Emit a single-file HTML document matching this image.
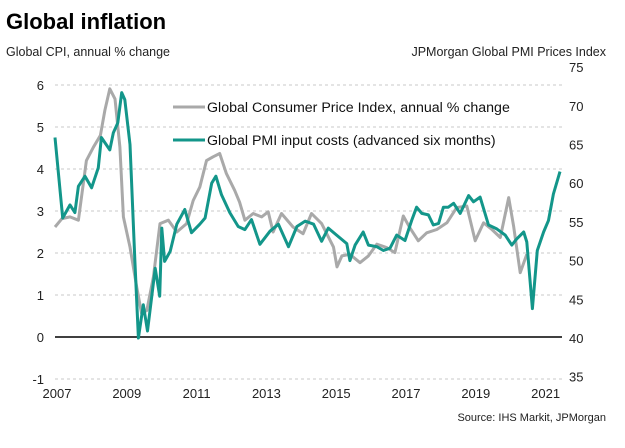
<!DOCTYPE html>
<html><head><meta charset="utf-8"><style>
body{margin:0;background:#fff;font-family:"Liberation Sans",Arial,sans-serif}
svg text{font-family:"Liberation Sans",Arial,sans-serif}
</style></head><body>
<svg id="chart" width="625" height="443" viewBox="0 0 625 443" xmlns="http://www.w3.org/2000/svg">
<text x="6" y="29" font-size="22" font-weight="bold" fill="#000">Global inflation</text>
<text x="6" y="56" font-size="12.5" fill="#222">Global  CPI, annual % change</text>
<text x="606" y="56" font-size="12.5" fill="#222" text-anchor="end">JPMorgan Global PMI Prices Index</text>
<g id="grid"></g>
<g id="lticks"></g>
<g id="rticks"></g>
<g id="xticks"></g>
<path id="cpi" fill="none" stroke="#a9a9a9" stroke-width="3" stroke-linejoin="round"/>
<path id="pmi" fill="none" stroke="#13968a" stroke-width="3" stroke-linejoin="round"/>
<g>
<line x1="173" y1="107" x2="205" y2="107" stroke="#a9a9a9" stroke-width="3"/>
<text x="207" y="112" font-size="14.2" fill="#111">Global Consumer Price Index, annual % change</text>
<line x1="173" y1="140" x2="205" y2="140" stroke="#13968a" stroke-width="3"/>
<text x="207" y="145" font-size="14.2" fill="#111">Global PMI input costs (advanced six months)</text>
</g>
<text x="606" y="421" font-size="11" fill="#222" text-anchor="end">Source: IHS Markit, JPMorgan</text>
</svg>
<script>
const leftTicks=[-1,0,1,2,3,4,5,6];
const rightTicks=[35,40,45,50,55,60,65,70,75];
const yearTicks=[2007,2009,2011,2013,2015,2017,2019,2021];
const cpiDates=[2007.0,2007.2,2007.43,2007.67,2007.9,2008.1,2008.3,2008.43,2008.57,2008.72,2008.86,2008.96,2009.15,2009.34,2009.48,2009.63,2009.82,2010.01,2010.25,2010.49,2010.77,2010.96,2011.15,2011.34,2011.53,2011.72,2011.91,2012.15,2012.29,2012.44,2012.68,2012.92,2013.11,2013.25,2013.49,2013.82,2014.11,2014.35,2014.64,2014.98,2015.08,2015.22,2015.45,2015.74,2015.98,2016.22,2016.5,2016.74,2016.98,2017.17,2017.41,2017.65,2017.94,2018.23,2018.51,2018.8,2019.04,2019.28,2019.52,2019.76,2020.0,2020.14,2020.33,2020.52];
const cpiValues=[2.62,2.82,2.86,2.78,4.2,4.52,4.8,5.4,5.91,5.67,4.52,2.86,2.14,1.19,0.56,0.63,1.43,2.7,2.78,2.5,2.7,3.25,3.57,4.2,4.29,4.37,3.89,3.49,3.21,2.78,2.94,2.86,2.98,2.5,2.94,2.62,2.46,2.94,2.7,2.14,1.67,1.93,1.97,1.77,1.93,2.21,2.13,2.01,2.88,2.6,2.29,2.48,2.56,2.72,3.08,3.12,2.29,2.72,2.56,2.37,3.32,2.64,1.53,1.97];
const pmiDates=[2007.0,2007.22,2007.43,2007.57,2007.67,2007.86,2008.05,2008.24,2008.33,2008.57,2008.67,2008.8,2008.91,2009.0,2009.15,2009.29,2009.39,2009.53,2009.65,2009.87,2010.0,2010.06,2010.14,2010.3,2010.49,2010.72,2010.91,2011.15,2011.3,2011.49,2011.61,2011.77,2012.01,2012.25,2012.44,2012.63,2012.87,2013.16,2013.4,2013.69,2013.93,2014.17,2014.41,2014.64,2014.83,2015.07,2015.36,2015.45,2015.6,2015.83,2015.98,2016.22,2016.41,2016.6,2016.79,2017.03,2017.22,2017.36,2017.51,2017.7,2017.84,2017.99,2018.13,2018.27,2018.42,2018.61,2018.85,2018.99,2019.18,2019.42,2019.66,2019.9,2020.09,2020.23,2020.43,2020.52,2020.68,2020.82,2021.0,2021.14,2021.28,2021.47];
const pmiValues=[65.9,55.5,57.2,56.2,59.6,60.9,59.4,62,65.9,64.3,66.5,67.8,71.7,70.8,65,49.9,40,44.3,40.9,49,45.4,54.2,49.9,51.2,54.7,56.6,53.6,54.7,55.5,60,60.9,58.5,56.2,54.4,54,55.3,52.1,53.8,54.7,51.8,54.4,55.1,54.7,52.5,54.2,53.3,52.2,50,52,53.7,52,51.8,51.3,51.6,53.3,52.6,55.2,56.9,56.1,55.9,54.6,54.8,56.9,56.9,57.4,56.1,58.4,57.6,58.2,54.6,54.1,53.3,52,52.8,53.7,52.4,43.8,51.3,53.7,55.2,58.6,61.5];

const NS='http://www.w3.org/2000/svg';
const xS=t=>55+(t-2007)*34.9;
const yL=v=>337-v*42;
const yR=v=>338-(v-40)*7.74;
function mk(tag,parent,attrs){const e=document.createElementNS(NS,tag);for(const k in attrs)e.setAttribute(k,attrs[k]);parent.appendChild(e);return e;}
const grid=document.getElementById('grid'),lt=document.getElementById('lticks'),rt=document.getElementById('rticks'),xt=document.getElementById('xticks');
leftTicks.forEach(v=>{
  const y=yL(v);
  const g=mk('line',grid,{x1:55,x2:562,y1:y,y2:y,stroke:v===0?'#000':'#c8c8c8','stroke-width':v===0?1.5:1,'stroke-dasharray':v===0?'none':'3,3'});
  
  
  const t=mk('text',lt,{x:44,y:y+5,'font-size':13,'text-anchor':'end',fill:'#222'});t.textContent=v;
  
  
});
rightTicks.forEach(v=>{
  const t=mk('text',rt,{x:569,y:yR(v)+5,'font-size':13,fill:'#222'});t.textContent=v;
  
  
});
yearTicks.forEach(v=>{
  const t=mk('text',xt,{x:xS(v)+2,y:398,'font-size':13,'text-anchor':'middle',fill:'#222'});t.textContent=v;
  
  
});
document.getElementById('cpi').setAttribute('d',cpiDates.map((d,i)=>(i?'L':'M')+xS(d).toFixed(1)+','+yL(cpiValues[i]).toFixed(1)).join(''));
document.getElementById('pmi').setAttribute('d',pmiDates.map((d,i)=>(i?'L':'M')+xS(d).toFixed(1)+','+yR(pmiValues[i]).toFixed(1)).join(''));
</script>
</body></html>
